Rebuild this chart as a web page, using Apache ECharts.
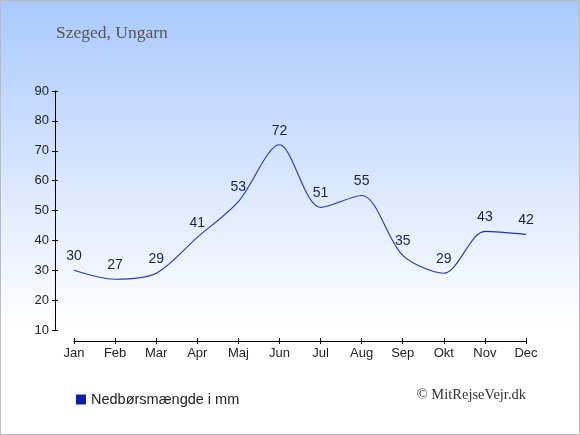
<!DOCTYPE html>
<html><head><meta charset="utf-8">
<script src="https://cdn.jsdelivr.net/npm/echarts@6/dist/echarts.min.js"></script>
<style>html,body{margin:0;padding:0;}#c{width:580px;height:435px;box-sizing:border-box;border:1px solid #bbb;}</style>
</head><body><div id="c"></div>
<script>
const months = ['Jan','Feb','Mar','Apr','Maj','Jun','Jul','Aug','Sep','Okt','Nov','Dec'];
const precipitation = [30,27,29,41,53,72,51,55,35,29,43,42];
const yTicks = {min:10, max:90, interval:10};
const seriesName = 'Nedbørsmængde i mm';

const chart = echarts.init(document.getElementById('c'));
const axisCommon = {
  type:'category', data:months, boundaryGap:false, position:'bottom', offset:11
};
chart.setOption({
  animation:false,
  backgroundColor:{type:'linear',x:0,y:0,x2:0,y2:1,colorStops:[
    {offset:0,color:'#a9c9fd'},{offset:0.75,color:'#ffffff'},{offset:1,color:'#ffffff'}]},
  title:{text:'Szeged, Ungarn',left:50,top:18,textStyle:{fontFamily:'Liberation Serif',fontSize:17.5,fontWeight:'normal',color:'#555555'}},
  grid:{left:73,right:53,top:90,bottom:104},
  legend:{show:true,left:70,top:386,itemWidth:10,itemHeight:10,icon:'rect',itemGap:6,
    textStyle:{fontFamily:'Liberation Sans',fontSize:14.5,color:'#222'},
    data:[{name:seriesName,icon:'rect',itemStyle:{color:'#0a1faa',opacity:1,borderWidth:0}}]},
  graphic:[{type:'text',right:53,top:387,style:{text:'© MitRejseVejr.dk',fontFamily:'Liberation Serif',fontSize:14.5,fill:'#333'}}],
  xAxis:[
    Object.assign({},axisCommon,{axisLine:{lineStyle:{color:'#000'}},axisTick:{length:3,lineStyle:{color:'#000'}},
      axisLabel:{color:'#222',fontFamily:'Liberation Sans',fontSize:13,margin:6},splitLine:{show:false}}),
    Object.assign({},axisCommon,{axisLine:{show:false},axisTick:{inside:true,length:3,lineStyle:{color:'#000'}},axisLabel:{show:false},splitLine:{show:false}})
  ],
  yAxis:[
    {type:'value',min:yTicks.min,max:yTicks.max,interval:yTicks.interval,offset:19,
     axisLine:{show:true,lineStyle:{color:'#000'}},axisTick:{show:true,length:3,lineStyle:{color:'#000'}},
     axisLabel:{color:'#222',fontFamily:'Liberation Sans',fontSize:13,margin:6},splitLine:{show:false}},
    {type:'value',position:'left',min:yTicks.min,max:yTicks.max,interval:yTicks.interval,offset:19,
     axisLine:{show:false},axisTick:{show:true,inside:true,length:3,lineStyle:{color:'#000'}},axisLabel:{show:false},splitLine:{show:false}}
  ],
  series:[{
    name:seriesName,type:'line',data:precipitation,smooth:0.3,symbol:'circle',symbolSize:2,showSymbol:true,
    lineStyle:{color:'#2233b0',width:1.1},itemStyle:{color:'rgba(0,0,0,0)',borderWidth:0},
    label:{show:true,position:'top',distance:6,color:'#142448',fontFamily:'Liberation Sans',fontSize:14}
  }]
});
</script></body></html>
